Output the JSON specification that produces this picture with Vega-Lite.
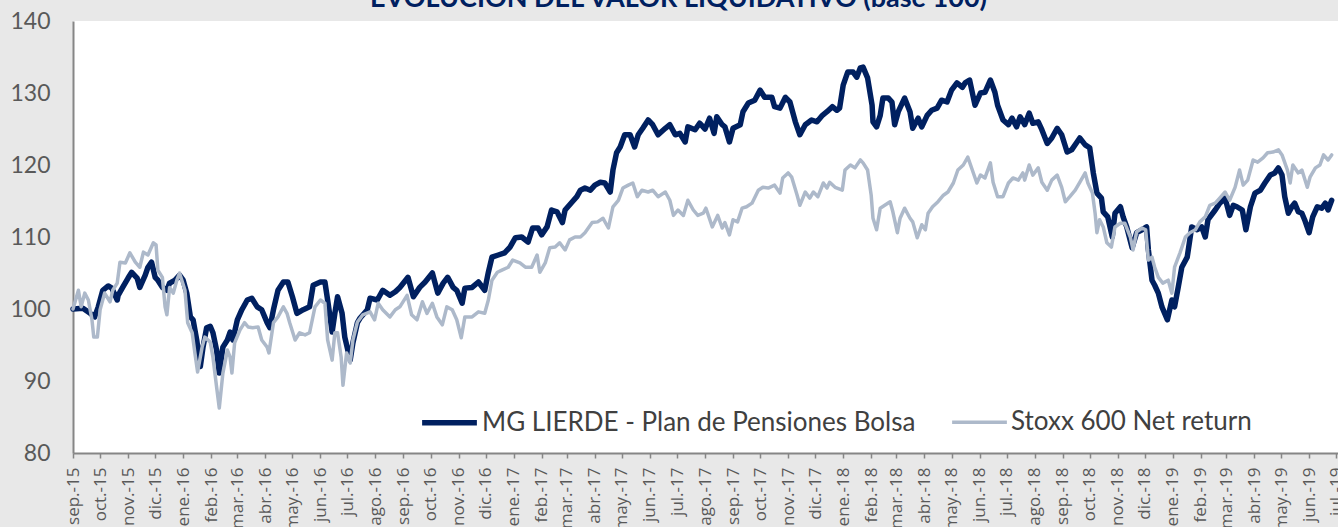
{
"$schema": "https://vega.github.io/schema/vega-lite/v6.json",
"width": 1265, "height": 432,
"autosize": {"type": "none"},
"padding": {"left": 73, "top": 21, "right": 0, "bottom": 74},
"background": "#e8e8e8",
"config": {"view": {"fill": "white", "stroke": null},
  "legend": {"orient": "none", "legendX": 346, "legendY": 371, "direction": "horizontal", "title": null,
    "labelFont": "Lato", "labelFontSize": 26, "labelColor": "#404040", "symbolType": "stroke", "symbolSize": 3000,
    "labelOffset": 2, "columnPadding": 29, "labelLimit": 700}},
"title": {"text": "EVOLUCIÓN DEL VALOR LIQUIDATIVO (base 100)", "font": "Lato", "fontSize": 27, "fontWeight": "bold", "color": "#002060", "anchor": "middle", "dx": -27, "offset": -24, "baseline": "alphabetic"},
"data": {"values": [
{"serie":"MG","fecha":"2015-09-01","valor":100},
{"serie":"MG","fecha":"2015-09-12","valor":100.1},
{"serie":"MG","fecha":"2015-09-20","valor":99.4},
{"serie":"MG","fecha":"2015-09-25","valor":98.9},
{"serie":"MG","fecha":"2015-09-29","valor":100.3},
{"serie":"MG","fecha":"2015-10-04","valor":102.6},
{"serie":"MG","fecha":"2015-10-10","valor":103.2},
{"serie":"MG","fecha":"2015-10-14","valor":102.9},
{"serie":"MG","fecha":"2015-10-20","valor":101.25},
{"serie":"MG","fecha":"2015-10-21","valor":101.9},
{"serie":"MG","fecha":"2015-10-26","valor":103},
{"serie":"MG","fecha":"2015-11-01","valor":104.3},
{"serie":"MG","fecha":"2015-11-05","valor":105.1},
{"serie":"MG","fecha":"2015-11-11","valor":104.3},
{"serie":"MG","fecha":"2015-11-14","valor":103},
{"serie":"MG","fecha":"2015-11-20","valor":104.7},
{"serie":"MG","fecha":"2015-11-23","valor":105.8},
{"serie":"MG","fecha":"2015-11-27","valor":106.5},
{"serie":"MG","fecha":"2015-12-01","valor":104.4},
{"serie":"MG","fecha":"2015-12-04","valor":104},
{"serie":"MG","fecha":"2015-12-09","valor":103},
{"serie":"MG","fecha":"2015-12-14","valor":102.6},
{"serie":"MG","fecha":"2015-12-17","valor":103.6},
{"serie":"MG","fecha":"2015-12-23","valor":104},
{"serie":"MG","fecha":"2015-12-28","valor":104.7},
{"serie":"MG","fecha":"2016-01-01","valor":104},
{"serie":"MG","fecha":"2016-01-05","valor":102.2},
{"serie":"MG","fecha":"2016-01-09","valor":98.9},
{"serie":"MG","fecha":"2016-01-12","valor":98.5},
{"serie":"MG","fecha":"2016-01-16","valor":95.7},
{"serie":"MG","fecha":"2016-01-20","valor":92},
{"serie":"MG","fecha":"2016-01-23","valor":94.7},
{"serie":"MG","fecha":"2016-01-27","valor":97.4},
{"serie":"MG","fecha":"2016-01-31","valor":97.6},
{"serie":"MG","fecha":"2016-02-03","valor":96.7},
{"serie":"MG","fecha":"2016-02-07","valor":94.3},
{"serie":"MG","fecha":"2016-02-10","valor":91.1},
{"serie":"MG","fecha":"2016-02-14","valor":94.7},
{"serie":"MG","fecha":"2016-02-19","valor":95.7},
{"serie":"MG","fecha":"2016-02-22","valor":96.8},
{"serie":"MG","fecha":"2016-02-25","valor":95.7},
{"serie":"MG","fecha":"2016-03-01","valor":98.5},
{"serie":"MG","fecha":"2016-03-06","valor":99.9},
{"serie":"MG","fecha":"2016-03-12","valor":101.25},
{"serie":"MG","fecha":"2016-03-17","valor":101.5},
{"serie":"MG","fecha":"2016-03-23","valor":100.3},
{"serie":"MG","fecha":"2016-03-28","valor":99.9},
{"serie":"MG","fecha":"2016-04-03","valor":98.1},
{"serie":"MG","fecha":"2016-04-06","valor":97.4},
{"serie":"MG","fecha":"2016-04-10","valor":99.9},
{"serie":"MG","fecha":"2016-04-15","valor":102.6},
{"serie":"MG","fecha":"2016-04-21","valor":103.75},
{"serie":"MG","fecha":"2016-04-26","valor":103.75},
{"serie":"MG","fecha":"2016-05-01","valor":101.7},
{"serie":"MG","fecha":"2016-05-06","valor":99.4},
{"serie":"MG","fecha":"2016-05-13","valor":99.9},
{"serie":"MG","fecha":"2016-05-20","valor":100.3},
{"serie":"MG","fecha":"2016-05-24","valor":103.3},
{"serie":"MG","fecha":"2016-06-01","valor":103.75},
{"serie":"MG","fecha":"2016-06-06","valor":103.75},
{"serie":"MG","fecha":"2016-06-09","valor":101.25},
{"serie":"MG","fecha":"2016-06-14","valor":96.8},
{"serie":"MG","fecha":"2016-06-17","valor":99.4},
{"serie":"MG","fecha":"2016-06-20","valor":101.7},
{"serie":"MG","fecha":"2016-06-25","valor":99.4},
{"serie":"MG","fecha":"2016-06-28","valor":96.1},
{"serie":"MG","fecha":"2016-07-04","valor":92.9},
{"serie":"MG","fecha":"2016-07-07","valor":95.3},
{"serie":"MG","fecha":"2016-07-12","valor":98.1},
{"serie":"MG","fecha":"2016-07-15","valor":98.75},
{"serie":"MG","fecha":"2016-07-23","valor":99.9},
{"serie":"MG","fecha":"2016-07-26","valor":101.5},
{"serie":"MG","fecha":"2016-08-03","valor":101.25},
{"serie":"MG","fecha":"2016-08-09","valor":102.6},
{"serie":"MG","fecha":"2016-08-17","valor":101.9},
{"serie":"MG","fecha":"2016-08-23","valor":102.4},
{"serie":"MG","fecha":"2016-08-28","valor":103},
{"serie":"MG","fecha":"2016-09-06","valor":104.4},
{"serie":"MG","fecha":"2016-09-12","valor":101.7},
{"serie":"MG","fecha":"2016-09-19","valor":103},
{"serie":"MG","fecha":"2016-09-25","valor":103.75},
{"serie":"MG","fecha":"2016-10-03","valor":105},
{"serie":"MG","fecha":"2016-10-09","valor":102.2},
{"serie":"MG","fecha":"2016-10-15","valor":103.6},
{"serie":"MG","fecha":"2016-10-20","valor":104.4},
{"serie":"MG","fecha":"2016-10-26","valor":103},
{"serie":"MG","fecha":"2016-10-30","valor":102.6},
{"serie":"MG","fecha":"2016-11-05","valor":100.8},
{"serie":"MG","fecha":"2016-11-08","valor":102.9},
{"serie":"MG","fecha":"2016-11-16","valor":103},
{"serie":"MG","fecha":"2016-11-23","valor":103.75},
{"serie":"MG","fecha":"2016-11-30","valor":102.6},
{"serie":"MG","fecha":"2016-12-04","valor":105.1},
{"serie":"MG","fecha":"2016-12-08","valor":107.2},
{"serie":"MG","fecha":"2016-12-15","valor":107.5},
{"serie":"MG","fecha":"2016-12-22","valor":107.8},
{"serie":"MG","fecha":"2016-12-28","valor":108.6},
{"serie":"MG","fecha":"2017-01-03","valor":109.9},
{"serie":"MG","fecha":"2017-01-10","valor":110},
{"serie":"MG","fecha":"2017-01-17","valor":109.3},
{"serie":"MG","fecha":"2017-01-22","valor":111.25},
{"serie":"MG","fecha":"2017-01-28","valor":111.25},
{"serie":"MG","fecha":"2017-02-01","valor":110.3},
{"serie":"MG","fecha":"2017-02-07","valor":111.4},
{"serie":"MG","fecha":"2017-02-12","valor":113.75},
{"serie":"MG","fecha":"2017-02-18","valor":113.5},
{"serie":"MG","fecha":"2017-02-24","valor":112},
{"serie":"MG","fecha":"2017-02-27","valor":113.75},
{"serie":"MG","fecha":"2017-03-07","valor":114.9},
{"serie":"MG","fecha":"2017-03-12","valor":115.6},
{"serie":"MG","fecha":"2017-03-16","valor":116.5},
{"serie":"MG","fecha":"2017-03-21","valor":116.8},
{"serie":"MG","fecha":"2017-03-27","valor":116.5},
{"serie":"MG","fecha":"2017-04-01","valor":117.2},
{"serie":"MG","fecha":"2017-04-07","valor":117.6},
{"serie":"MG","fecha":"2017-04-12","valor":117.5},
{"serie":"MG","fecha":"2017-04-18","valor":116.25},
{"serie":"MG","fecha":"2017-04-21","valor":119.3},
{"serie":"MG","fecha":"2017-04-25","valor":121.7},
{"serie":"MG","fecha":"2017-04-29","valor":122.5},
{"serie":"MG","fecha":"2017-05-04","valor":124.2},
{"serie":"MG","fecha":"2017-05-10","valor":124.2},
{"serie":"MG","fecha":"2017-05-15","valor":122.5},
{"serie":"MG","fecha":"2017-05-19","valor":124.2},
{"serie":"MG","fecha":"2017-05-24","valor":125.1},
{"serie":"MG","fecha":"2017-05-30","valor":126.25},
{"serie":"MG","fecha":"2017-06-04","valor":125.6},
{"serie":"MG","fecha":"2017-06-10","valor":124.2},
{"serie":"MG","fecha":"2017-06-18","valor":125.1},
{"serie":"MG","fecha":"2017-06-23","valor":125.6},
{"serie":"MG","fecha":"2017-06-29","valor":124.2},
{"serie":"MG","fecha":"2017-07-04","valor":124.4},
{"serie":"MG","fecha":"2017-07-10","valor":123.2},
{"serie":"MG","fecha":"2017-07-13","valor":125.3},
{"serie":"MG","fecha":"2017-07-21","valor":124.9},
{"serie":"MG","fecha":"2017-07-26","valor":125.8},
{"serie":"MG","fecha":"2017-08-01","valor":125},
{"serie":"MG","fecha":"2017-08-06","valor":126.5},
{"serie":"MG","fecha":"2017-08-11","valor":124.4},
{"serie":"MG","fecha":"2017-08-14","valor":126.7},
{"serie":"MG","fecha":"2017-08-20","valor":125.6},
{"serie":"MG","fecha":"2017-08-23","valor":125.3},
{"serie":"MG","fecha":"2017-08-28","valor":123.2},
{"serie":"MG","fecha":"2017-09-01","valor":125.1},
{"serie":"MG","fecha":"2017-09-09","valor":125.6},
{"serie":"MG","fecha":"2017-09-12","valor":127.4},
{"serie":"MG","fecha":"2017-09-18","valor":128.6},
{"serie":"MG","fecha":"2017-09-25","valor":129},
{"serie":"MG","fecha":"2017-10-01","valor":130.4},
{"serie":"MG","fecha":"2017-10-06","valor":129.4},
{"serie":"MG","fecha":"2017-10-14","valor":129.4},
{"serie":"MG","fecha":"2017-10-17","valor":128.1},
{"serie":"MG","fecha":"2017-10-23","valor":127.9},
{"serie":"MG","fecha":"2017-10-29","valor":129.4},
{"serie":"MG","fecha":"2017-11-03","valor":128.75},
{"serie":"MG","fecha":"2017-11-09","valor":126},
{"serie":"MG","fecha":"2017-11-14","valor":124.2},
{"serie":"MG","fecha":"2017-11-20","valor":125.6},
{"serie":"MG","fecha":"2017-11-27","valor":126.25},
{"serie":"MG","fecha":"2017-12-03","valor":126},
{"serie":"MG","fecha":"2017-12-09","valor":126.9},
{"serie":"MG","fecha":"2017-12-14","valor":127.4},
{"serie":"MG","fecha":"2017-12-20","valor":128.1},
{"serie":"MG","fecha":"2017-12-25","valor":127.6},
{"serie":"MG","fecha":"2017-12-28","valor":127.9},
{"serie":"MG","fecha":"2018-01-01","valor":131.1},
{"serie":"MG","fecha":"2018-01-06","valor":132.9},
{"serie":"MG","fecha":"2018-01-12","valor":132.9},
{"serie":"MG","fecha":"2018-01-16","valor":132.2},
{"serie":"MG","fecha":"2018-01-20","valor":133.5},
{"serie":"MG","fecha":"2018-01-23","valor":133.6},
{"serie":"MG","fecha":"2018-01-28","valor":132.1},
{"serie":"MG","fecha":"2018-02-02","valor":128.3},
{"serie":"MG","fecha":"2018-02-03","valor":126},
{"serie":"MG","fecha":"2018-02-07","valor":125.3},
{"serie":"MG","fecha":"2018-02-11","valor":126.9},
{"serie":"MG","fecha":"2018-02-14","valor":129.3},
{"serie":"MG","fecha":"2018-02-20","valor":129.3},
{"serie":"MG","fecha":"2018-02-24","valor":128.75},
{"serie":"MG","fecha":"2018-02-27","valor":125.6},
{"serie":"MG","fecha":"2018-03-03","valor":127.4},
{"serie":"MG","fecha":"2018-03-10","valor":129.3},
{"serie":"MG","fecha":"2018-03-16","valor":127.4},
{"serie":"MG","fecha":"2018-03-19","valor":125.1},
{"serie":"MG","fecha":"2018-03-25","valor":126.5},
{"serie":"MG","fecha":"2018-03-29","valor":125.3},
{"serie":"MG","fecha":"2018-04-04","valor":126.9},
{"serie":"MG","fecha":"2018-04-09","valor":127.6},
{"serie":"MG","fecha":"2018-04-15","valor":127.9},
{"serie":"MG","fecha":"2018-04-20","valor":129},
{"serie":"MG","fecha":"2018-04-26","valor":128.75},
{"serie":"MG","fecha":"2018-05-01","valor":130.4},
{"serie":"MG","fecha":"2018-05-07","valor":131.4},
{"serie":"MG","fecha":"2018-05-13","valor":130.8},
{"serie":"MG","fecha":"2018-05-16","valor":131.4},
{"serie":"MG","fecha":"2018-05-21","valor":131.8},
{"serie":"MG","fecha":"2018-05-27","valor":128.3},
{"serie":"MG","fecha":"2018-06-02","valor":130},
{"serie":"MG","fecha":"2018-06-07","valor":130.1},
{"serie":"MG","fecha":"2018-06-13","valor":131.8},
{"serie":"MG","fecha":"2018-06-18","valor":130.1},
{"serie":"MG","fecha":"2018-06-21","valor":128.3},
{"serie":"MG","fecha":"2018-06-27","valor":126.25},
{"serie":"MG","fecha":"2018-07-03","valor":125.6},
{"serie":"MG","fecha":"2018-07-07","valor":126.5},
{"serie":"MG","fecha":"2018-07-12","valor":125.3},
{"serie":"MG","fecha":"2018-07-16","valor":126.7},
{"serie":"MG","fecha":"2018-07-21","valor":125.6},
{"serie":"MG","fecha":"2018-07-26","valor":127.2},
{"serie":"MG","fecha":"2018-07-30","valor":125.8},
{"serie":"MG","fecha":"2018-08-05","valor":126},
{"serie":"MG","fecha":"2018-08-09","valor":124.9},
{"serie":"MG","fecha":"2018-08-15","valor":123},
{"serie":"MG","fecha":"2018-08-20","valor":123.75},
{"serie":"MG","fecha":"2018-08-26","valor":125.1},
{"serie":"MG","fecha":"2018-08-31","valor":124.2},
{"serie":"MG","fecha":"2018-09-06","valor":121.8},
{"serie":"MG","fecha":"2018-09-11","valor":122.1},
{"serie":"MG","fecha":"2018-09-17","valor":123.2},
{"serie":"MG","fecha":"2018-09-20","valor":123.75},
{"serie":"MG","fecha":"2018-09-26","valor":122.8},
{"serie":"MG","fecha":"2018-10-01","valor":122.4},
{"serie":"MG","fecha":"2018-10-05","valor":118.9},
{"serie":"MG","fecha":"2018-10-09","valor":116.1},
{"serie":"MG","fecha":"2018-10-14","valor":115.4},
{"serie":"MG","fecha":"2018-10-16","valor":113.5},
{"serie":"MG","fecha":"2018-10-21","valor":112.8},
{"serie":"MG","fecha":"2018-10-26","valor":110},
{"serie":"MG","fecha":"2018-10-29","valor":113.3},
{"serie":"MG","fecha":"2018-11-04","valor":114.2},
{"serie":"MG","fecha":"2018-11-07","valor":112.8},
{"serie":"MG","fecha":"2018-11-11","valor":111.4},
{"serie":"MG","fecha":"2018-11-17","valor":108.5},
{"serie":"MG","fecha":"2018-11-22","valor":110.6},
{"serie":"MG","fecha":"2018-11-28","valor":111},
{"serie":"MG","fecha":"2018-12-03","valor":111.4},
{"serie":"MG","fecha":"2018-12-05","valor":108.2},
{"serie":"MG","fecha":"2018-12-09","valor":104},
{"serie":"MG","fecha":"2018-12-12","valor":103.3},
{"serie":"MG","fecha":"2018-12-16","valor":102.2},
{"serie":"MG","fecha":"2018-12-20","valor":100.3},
{"serie":"MG","fecha":"2018-12-26","valor":98.5},
{"serie":"MG","fecha":"2018-12-31","valor":101.25},
{"serie":"MG","fecha":"2019-01-03","valor":100.3},
{"serie":"MG","fecha":"2019-01-07","valor":103},
{"serie":"MG","fecha":"2019-01-11","valor":105.8},
{"serie":"MG","fecha":"2019-01-17","valor":107.2},
{"serie":"MG","fecha":"2019-01-22","valor":111.4},
{"serie":"MG","fecha":"2019-01-28","valor":111},
{"serie":"MG","fecha":"2019-02-02","valor":111.4},
{"serie":"MG","fecha":"2019-02-06","valor":110},
{"serie":"MG","fecha":"2019-02-09","valor":112.4},
{"serie":"MG","fecha":"2019-02-17","valor":113.75},
{"serie":"MG","fecha":"2019-02-22","valor":114.7},
{"serie":"MG","fecha":"2019-02-28","valor":115.4},
{"serie":"MG","fecha":"2019-03-05","valor":113},
{"serie":"MG","fecha":"2019-03-09","valor":114.4},
{"serie":"MG","fecha":"2019-03-13","valor":114.2},
{"serie":"MG","fecha":"2019-03-19","valor":113.75},
{"serie":"MG","fecha":"2019-03-23","valor":111},
{"serie":"MG","fecha":"2019-03-28","valor":114.2},
{"serie":"MG","fecha":"2019-04-02","valor":116.1},
{"serie":"MG","fecha":"2019-04-08","valor":116.5},
{"serie":"MG","fecha":"2019-04-13","valor":117.5},
{"serie":"MG","fecha":"2019-04-19","valor":118.6},
{"serie":"MG","fecha":"2019-04-24","valor":118.9},
{"serie":"MG","fecha":"2019-04-28","valor":119.6},
{"serie":"MG","fecha":"2019-05-02","valor":118.6},
{"serie":"MG","fecha":"2019-05-05","valor":115.6},
{"serie":"MG","fecha":"2019-05-09","valor":113.3},
{"serie":"MG","fecha":"2019-05-13","valor":114.2},
{"serie":"MG","fecha":"2019-05-16","valor":114.7},
{"serie":"MG","fecha":"2019-05-20","valor":113.5},
{"serie":"MG","fecha":"2019-05-24","valor":113.3},
{"serie":"MG","fecha":"2019-05-27","valor":112.4},
{"serie":"MG","fecha":"2019-06-01","valor":110.6},
{"serie":"MG","fecha":"2019-06-05","valor":112.8},
{"serie":"MG","fecha":"2019-06-10","valor":114.2},
{"serie":"MG","fecha":"2019-06-15","valor":114},
{"serie":"MG","fecha":"2019-06-19","valor":114.7},
{"serie":"MG","fecha":"2019-06-22","valor":113.75},
{"serie":"MG","fecha":"2019-06-26","valor":115.1},
{"serie":"Stoxx","fecha":"2015-09-01","valor":100},
{"serie":"Stoxx","fecha":"2015-09-07","valor":102.6},
{"serie":"Stoxx","fecha":"2015-09-10","valor":100.3},
{"serie":"Stoxx","fecha":"2015-09-14","valor":102.2},
{"serie":"Stoxx","fecha":"2015-09-18","valor":101.25},
{"serie":"Stoxx","fecha":"2015-09-22","valor":98.5},
{"serie":"Stoxx","fecha":"2015-09-24","valor":96.1},
{"serie":"Stoxx","fecha":"2015-09-28","valor":96.1},
{"serie":"Stoxx","fecha":"2015-10-01","valor":99.9},
{"serie":"Stoxx","fecha":"2015-10-06","valor":102.2},
{"serie":"Stoxx","fecha":"2015-10-12","valor":101},
{"serie":"Stoxx","fecha":"2015-10-15","valor":102.6},
{"serie":"Stoxx","fecha":"2015-10-20","valor":103.6},
{"serie":"Stoxx","fecha":"2015-10-23","valor":106.5},
{"serie":"Stoxx","fecha":"2015-10-29","valor":106.4},
{"serie":"Stoxx","fecha":"2015-11-03","valor":107.8},
{"serie":"Stoxx","fecha":"2015-11-09","valor":106.5},
{"serie":"Stoxx","fecha":"2015-11-14","valor":105.8},
{"serie":"Stoxx","fecha":"2015-11-18","valor":107.9},
{"serie":"Stoxx","fecha":"2015-11-23","valor":107.5},
{"serie":"Stoxx","fecha":"2015-11-29","valor":109.2},
{"serie":"Stoxx","fecha":"2015-12-02","valor":108.9},
{"serie":"Stoxx","fecha":"2015-12-04","valor":105.4},
{"serie":"Stoxx","fecha":"2015-12-09","valor":104.4},
{"serie":"Stoxx","fecha":"2015-12-12","valor":100.3},
{"serie":"Stoxx","fecha":"2015-12-14","valor":99.2},
{"serie":"Stoxx","fecha":"2015-12-17","valor":103},
{"serie":"Stoxx","fecha":"2015-12-21","valor":102.2},
{"serie":"Stoxx","fecha":"2015-12-25","valor":104},
{"serie":"Stoxx","fecha":"2015-12-28","valor":105},
{"serie":"Stoxx","fecha":"2016-01-03","valor":102.6},
{"serie":"Stoxx","fecha":"2016-01-06","valor":98.1},
{"serie":"Stoxx","fecha":"2016-01-11","valor":96.7},
{"serie":"Stoxx","fecha":"2016-01-14","valor":93.9},
{"serie":"Stoxx","fecha":"2016-01-17","valor":91.25},
{"serie":"Stoxx","fecha":"2016-01-22","valor":94.7},
{"serie":"Stoxx","fecha":"2016-01-25","valor":96.1},
{"serie":"Stoxx","fecha":"2016-01-31","valor":95.4},
{"serie":"Stoxx","fecha":"2016-02-03","valor":93.3},
{"serie":"Stoxx","fecha":"2016-02-07","valor":89.2},
{"serie":"Stoxx","fecha":"2016-02-10","valor":86.25},
{"serie":"Stoxx","fecha":"2016-02-14","valor":91.1},
{"serie":"Stoxx","fecha":"2016-02-19","valor":94.3},
{"serie":"Stoxx","fecha":"2016-02-22","valor":93.3},
{"serie":"Stoxx","fecha":"2016-02-24","valor":91.1},
{"serie":"Stoxx","fecha":"2016-02-27","valor":95.3},
{"serie":"Stoxx","fecha":"2016-03-04","valor":97.1},
{"serie":"Stoxx","fecha":"2016-03-09","valor":98.1},
{"serie":"Stoxx","fecha":"2016-03-13","valor":97.5},
{"serie":"Stoxx","fecha":"2016-03-18","valor":97.4},
{"serie":"Stoxx","fecha":"2016-03-24","valor":97.5},
{"serie":"Stoxx","fecha":"2016-03-28","valor":95.7},
{"serie":"Stoxx","fecha":"2016-04-03","valor":94.7},
{"serie":"Stoxx","fecha":"2016-04-05","valor":93.9},
{"serie":"Stoxx","fecha":"2016-04-10","valor":98.1},
{"serie":"Stoxx","fecha":"2016-04-15","valor":98.9},
{"serie":"Stoxx","fecha":"2016-04-21","valor":100.3},
{"serie":"Stoxx","fecha":"2016-04-25","valor":99.4},
{"serie":"Stoxx","fecha":"2016-04-28","valor":98.1},
{"serie":"Stoxx","fecha":"2016-05-04","valor":95.7},
{"serie":"Stoxx","fecha":"2016-05-09","valor":96.7},
{"serie":"Stoxx","fecha":"2016-05-15","valor":96.4},
{"serie":"Stoxx","fecha":"2016-05-20","valor":96.7},
{"serie":"Stoxx","fecha":"2016-05-26","valor":100.3},
{"serie":"Stoxx","fecha":"2016-06-01","valor":101.25},
{"serie":"Stoxx","fecha":"2016-06-06","valor":100.8},
{"serie":"Stoxx","fecha":"2016-06-09","valor":95.7},
{"serie":"Stoxx","fecha":"2016-06-14","valor":92.9},
{"serie":"Stoxx","fecha":"2016-06-17","valor":96.7},
{"serie":"Stoxx","fecha":"2016-06-20","valor":96.7},
{"serie":"Stoxx","fecha":"2016-06-24","valor":93.3},
{"serie":"Stoxx","fecha":"2016-06-26","valor":89.4},
{"serie":"Stoxx","fecha":"2016-06-30","valor":93.9},
{"serie":"Stoxx","fecha":"2016-07-04","valor":92.5},
{"serie":"Stoxx","fecha":"2016-07-07","valor":95.7},
{"serie":"Stoxx","fecha":"2016-07-12","valor":98.2},
{"serie":"Stoxx","fecha":"2016-07-18","valor":99.2},
{"serie":"Stoxx","fecha":"2016-07-26","valor":99.6},
{"serie":"Stoxx","fecha":"2016-07-31","valor":98.5},
{"serie":"Stoxx","fecha":"2016-08-04","valor":100.8},
{"serie":"Stoxx","fecha":"2016-08-09","valor":99.9},
{"serie":"Stoxx","fecha":"2016-08-17","valor":98.9},
{"serie":"Stoxx","fecha":"2016-08-23","valor":99.9},
{"serie":"Stoxx","fecha":"2016-08-28","valor":100.3},
{"serie":"Stoxx","fecha":"2016-09-05","valor":101.9},
{"serie":"Stoxx","fecha":"2016-09-10","valor":99.2},
{"serie":"Stoxx","fecha":"2016-09-16","valor":98.5},
{"serie":"Stoxx","fecha":"2016-09-22","valor":101},
{"serie":"Stoxx","fecha":"2016-09-27","valor":99.4},
{"serie":"Stoxx","fecha":"2016-10-03","valor":100.8},
{"serie":"Stoxx","fecha":"2016-10-08","valor":98.9},
{"serie":"Stoxx","fecha":"2016-10-14","valor":97.8},
{"serie":"Stoxx","fecha":"2016-10-19","valor":100.3},
{"serie":"Stoxx","fecha":"2016-10-25","valor":99.9},
{"serie":"Stoxx","fecha":"2016-10-30","valor":98.5},
{"serie":"Stoxx","fecha":"2016-11-04","valor":96},
{"serie":"Stoxx","fecha":"2016-11-08","valor":98.9},
{"serie":"Stoxx","fecha":"2016-11-16","valor":98.9},
{"serie":"Stoxx","fecha":"2016-11-23","valor":99.6},
{"serie":"Stoxx","fecha":"2016-11-30","valor":99.4},
{"serie":"Stoxx","fecha":"2016-12-04","valor":101.25},
{"serie":"Stoxx","fecha":"2016-12-08","valor":104},
{"serie":"Stoxx","fecha":"2016-12-14","valor":105.1},
{"serie":"Stoxx","fecha":"2016-12-19","valor":105.4},
{"serie":"Stoxx","fecha":"2016-12-26","valor":105.8},
{"serie":"Stoxx","fecha":"2016-12-31","valor":106.8},
{"serie":"Stoxx","fecha":"2017-01-08","valor":106.4},
{"serie":"Stoxx","fecha":"2017-01-14","valor":105.8},
{"serie":"Stoxx","fecha":"2017-01-21","valor":105.8},
{"serie":"Stoxx","fecha":"2017-01-27","valor":107.5},
{"serie":"Stoxx","fecha":"2017-01-30","valor":105.1},
{"serie":"Stoxx","fecha":"2017-02-05","valor":106.4},
{"serie":"Stoxx","fecha":"2017-02-10","valor":108.5},
{"serie":"Stoxx","fecha":"2017-02-16","valor":108.6},
{"serie":"Stoxx","fecha":"2017-02-21","valor":109.2},
{"serie":"Stoxx","fecha":"2017-02-27","valor":108.2},
{"serie":"Stoxx","fecha":"2017-03-04","valor":109.6},
{"serie":"Stoxx","fecha":"2017-03-10","valor":110},
{"serie":"Stoxx","fecha":"2017-03-16","valor":110},
{"serie":"Stoxx","fecha":"2017-03-21","valor":110.6},
{"serie":"Stoxx","fecha":"2017-03-29","valor":112},
{"serie":"Stoxx","fecha":"2017-04-04","valor":112.1},
{"serie":"Stoxx","fecha":"2017-04-10","valor":112.6},
{"serie":"Stoxx","fecha":"2017-04-16","valor":111.25},
{"serie":"Stoxx","fecha":"2017-04-21","valor":114.2},
{"serie":"Stoxx","fecha":"2017-04-27","valor":115.1},
{"serie":"Stoxx","fecha":"2017-05-02","valor":116.8},
{"serie":"Stoxx","fecha":"2017-05-08","valor":117.2},
{"serie":"Stoxx","fecha":"2017-05-13","valor":117.5},
{"serie":"Stoxx","fecha":"2017-05-18","valor":115.6},
{"serie":"Stoxx","fecha":"2017-05-23","valor":116.5},
{"serie":"Stoxx","fecha":"2017-05-30","valor":116.25},
{"serie":"Stoxx","fecha":"2017-06-04","valor":116.5},
{"serie":"Stoxx","fecha":"2017-06-10","valor":115.6},
{"serie":"Stoxx","fecha":"2017-06-18","valor":116.25},
{"serie":"Stoxx","fecha":"2017-06-23","valor":115.1},
{"serie":"Stoxx","fecha":"2017-06-27","valor":113},
{"serie":"Stoxx","fecha":"2017-07-02","valor":113.75},
{"serie":"Stoxx","fecha":"2017-07-08","valor":113},
{"serie":"Stoxx","fecha":"2017-07-13","valor":115.1},
{"serie":"Stoxx","fecha":"2017-07-19","valor":113.75},
{"serie":"Stoxx","fecha":"2017-07-24","valor":113},
{"serie":"Stoxx","fecha":"2017-07-30","valor":113.3},
{"serie":"Stoxx","fecha":"2017-08-02","valor":114},
{"serie":"Stoxx","fecha":"2017-08-09","valor":111.4},
{"serie":"Stoxx","fecha":"2017-08-15","valor":113},
{"serie":"Stoxx","fecha":"2017-08-20","valor":111.25},
{"serie":"Stoxx","fecha":"2017-08-23","valor":112},
{"serie":"Stoxx","fecha":"2017-08-28","valor":110.3},
{"serie":"Stoxx","fecha":"2017-09-01","valor":112.4},
{"serie":"Stoxx","fecha":"2017-09-06","valor":112.1},
{"serie":"Stoxx","fecha":"2017-09-11","valor":114},
{"serie":"Stoxx","fecha":"2017-09-16","valor":114.2},
{"serie":"Stoxx","fecha":"2017-09-22","valor":114.7},
{"serie":"Stoxx","fecha":"2017-09-29","valor":116.5},
{"serie":"Stoxx","fecha":"2017-10-04","valor":116.9},
{"serie":"Stoxx","fecha":"2017-10-10","valor":116.8},
{"serie":"Stoxx","fecha":"2017-10-17","valor":117.2},
{"serie":"Stoxx","fecha":"2017-10-23","valor":116.1},
{"serie":"Stoxx","fecha":"2017-10-26","valor":118.2},
{"serie":"Stoxx","fecha":"2017-11-01","valor":118.9},
{"serie":"Stoxx","fecha":"2017-11-05","valor":118.3},
{"serie":"Stoxx","fecha":"2017-11-11","valor":115.8},
{"serie":"Stoxx","fecha":"2017-11-14","valor":114.4},
{"serie":"Stoxx","fecha":"2017-11-20","valor":116.25},
{"serie":"Stoxx","fecha":"2017-11-25","valor":115.4},
{"serie":"Stoxx","fecha":"2017-11-29","valor":116.25},
{"serie":"Stoxx","fecha":"2017-12-04","valor":115.6},
{"serie":"Stoxx","fecha":"2017-12-10","valor":117.5},
{"serie":"Stoxx","fecha":"2017-12-14","valor":116.8},
{"serie":"Stoxx","fecha":"2017-12-17","valor":117.6},
{"serie":"Stoxx","fecha":"2017-12-23","valor":116.9},
{"serie":"Stoxx","fecha":"2017-12-31","valor":116.5},
{"serie":"Stoxx","fecha":"2018-01-03","valor":119.3},
{"serie":"Stoxx","fecha":"2018-01-09","valor":120},
{"serie":"Stoxx","fecha":"2018-01-14","valor":119.6},
{"serie":"Stoxx","fecha":"2018-01-20","valor":120.7},
{"serie":"Stoxx","fecha":"2018-01-23","valor":120.3},
{"serie":"Stoxx","fecha":"2018-01-28","valor":119.3},
{"serie":"Stoxx","fecha":"2018-02-01","valor":115.8},
{"serie":"Stoxx","fecha":"2018-02-03","valor":112.6},
{"serie":"Stoxx","fecha":"2018-02-07","valor":111},
{"serie":"Stoxx","fecha":"2018-02-11","valor":114},
{"serie":"Stoxx","fecha":"2018-02-16","valor":114.4},
{"serie":"Stoxx","fecha":"2018-02-22","valor":114.9},
{"serie":"Stoxx","fecha":"2018-02-25","valor":113.5},
{"serie":"Stoxx","fecha":"2018-03-02","valor":110.6},
{"serie":"Stoxx","fecha":"2018-03-05","valor":112.6},
{"serie":"Stoxx","fecha":"2018-03-10","valor":114},
{"serie":"Stoxx","fecha":"2018-03-16","valor":112.6},
{"serie":"Stoxx","fecha":"2018-03-19","valor":112.1},
{"serie":"Stoxx","fecha":"2018-03-24","valor":109.9},
{"serie":"Stoxx","fecha":"2018-03-29","valor":111.7},
{"serie":"Stoxx","fecha":"2018-04-02","valor":111},
{"serie":"Stoxx","fecha":"2018-04-05","valor":113.3},
{"serie":"Stoxx","fecha":"2018-04-10","valor":114.2},
{"serie":"Stoxx","fecha":"2018-04-16","valor":114.9},
{"serie":"Stoxx","fecha":"2018-04-22","valor":115.8},
{"serie":"Stoxx","fecha":"2018-04-27","valor":116.25},
{"serie":"Stoxx","fecha":"2018-05-03","valor":117.5},
{"serie":"Stoxx","fecha":"2018-05-08","valor":119.3},
{"serie":"Stoxx","fecha":"2018-05-14","valor":120},
{"serie":"Stoxx","fecha":"2018-05-19","valor":121.1},
{"serie":"Stoxx","fecha":"2018-05-24","valor":119.3},
{"serie":"Stoxx","fecha":"2018-05-29","valor":117.5},
{"serie":"Stoxx","fecha":"2018-06-02","valor":118.6},
{"serie":"Stoxx","fecha":"2018-06-07","valor":118.2},
{"serie":"Stoxx","fecha":"2018-06-13","valor":120.3},
{"serie":"Stoxx","fecha":"2018-06-16","valor":117.6},
{"serie":"Stoxx","fecha":"2018-06-21","valor":115.6},
{"serie":"Stoxx","fecha":"2018-06-27","valor":115.6},
{"serie":"Stoxx","fecha":"2018-07-03","valor":117.5},
{"serie":"Stoxx","fecha":"2018-07-08","valor":118.2},
{"serie":"Stoxx","fecha":"2018-07-14","valor":117.9},
{"serie":"Stoxx","fecha":"2018-07-19","valor":118.9},
{"serie":"Stoxx","fecha":"2018-07-21","valor":117.9},
{"serie":"Stoxx","fecha":"2018-07-26","valor":120},
{"serie":"Stoxx","fecha":"2018-07-30","valor":118.6},
{"serie":"Stoxx","fecha":"2018-08-05","valor":119.6},
{"serie":"Stoxx","fecha":"2018-08-09","valor":117.6},
{"serie":"Stoxx","fecha":"2018-08-15","valor":116.5},
{"serie":"Stoxx","fecha":"2018-08-20","valor":117.9},
{"serie":"Stoxx","fecha":"2018-08-26","valor":118.6},
{"serie":"Stoxx","fecha":"2018-08-31","valor":116.9},
{"serie":"Stoxx","fecha":"2018-09-04","valor":114.9},
{"serie":"Stoxx","fecha":"2018-09-09","valor":115.6},
{"serie":"Stoxx","fecha":"2018-09-15","valor":116.5},
{"serie":"Stoxx","fecha":"2018-09-20","valor":117.6},
{"serie":"Stoxx","fecha":"2018-09-26","valor":118.9},
{"serie":"Stoxx","fecha":"2018-09-29","valor":117.5},
{"serie":"Stoxx","fecha":"2018-10-04","valor":116.1},
{"serie":"Stoxx","fecha":"2018-10-07","valor":113.3},
{"serie":"Stoxx","fecha":"2018-10-09","valor":110.6},
{"serie":"Stoxx","fecha":"2018-10-12","valor":112.4},
{"serie":"Stoxx","fecha":"2018-10-16","valor":111.4},
{"serie":"Stoxx","fecha":"2018-10-20","valor":109.2},
{"serie":"Stoxx","fecha":"2018-10-25","valor":108.6},
{"serie":"Stoxx","fecha":"2018-10-29","valor":111.4},
{"serie":"Stoxx","fecha":"2018-11-04","valor":111.9},
{"serie":"Stoxx","fecha":"2018-11-09","valor":111.9},
{"serie":"Stoxx","fecha":"2018-11-15","valor":110},
{"serie":"Stoxx","fecha":"2018-11-18","valor":108.2},
{"serie":"Stoxx","fecha":"2018-11-22","valor":110.7},
{"serie":"Stoxx","fecha":"2018-11-28","valor":111.25},
{"serie":"Stoxx","fecha":"2018-12-02","valor":111},
{"serie":"Stoxx","fecha":"2018-12-05","valor":106.8},
{"serie":"Stoxx","fecha":"2018-12-09","valor":107.2},
{"serie":"Stoxx","fecha":"2018-12-12","valor":105.8},
{"serie":"Stoxx","fecha":"2018-12-16","valor":104.4},
{"serie":"Stoxx","fecha":"2018-12-21","valor":103.6},
{"serie":"Stoxx","fecha":"2018-12-27","valor":104},
{"serie":"Stoxx","fecha":"2018-12-31","valor":102.2},
{"serie":"Stoxx","fecha":"2019-01-03","valor":105.8},
{"serie":"Stoxx","fecha":"2019-01-09","valor":107.8},
{"serie":"Stoxx","fecha":"2019-01-15","valor":110},
{"serie":"Stoxx","fecha":"2019-01-20","valor":110.6},
{"serie":"Stoxx","fecha":"2019-01-26","valor":111},
{"serie":"Stoxx","fecha":"2019-01-31","valor":112.1},
{"serie":"Stoxx","fecha":"2019-02-06","valor":112.8},
{"serie":"Stoxx","fecha":"2019-02-11","valor":114.4},
{"serie":"Stoxx","fecha":"2019-02-17","valor":114.7},
{"serie":"Stoxx","fecha":"2019-02-22","valor":115.4},
{"serie":"Stoxx","fecha":"2019-02-28","valor":116.25},
{"serie":"Stoxx","fecha":"2019-03-05","valor":115.1},
{"serie":"Stoxx","fecha":"2019-03-11","valor":116.9},
{"serie":"Stoxx","fecha":"2019-03-16","valor":119.3},
{"serie":"Stoxx","fecha":"2019-03-20","valor":117.2},
{"serie":"Stoxx","fecha":"2019-03-25","valor":117.9},
{"serie":"Stoxx","fecha":"2019-03-31","valor":120.7},
{"serie":"Stoxx","fecha":"2019-04-05","valor":120.4},
{"serie":"Stoxx","fecha":"2019-04-11","valor":121},
{"serie":"Stoxx","fecha":"2019-04-16","valor":121.7},
{"serie":"Stoxx","fecha":"2019-04-22","valor":121.8},
{"serie":"Stoxx","fecha":"2019-04-28","valor":122.1},
{"serie":"Stoxx","fecha":"2019-05-02","valor":121.4},
{"serie":"Stoxx","fecha":"2019-05-08","valor":119.3},
{"serie":"Stoxx","fecha":"2019-05-11","valor":117.5},
{"serie":"Stoxx","fecha":"2019-05-14","valor":120},
{"serie":"Stoxx","fecha":"2019-05-20","valor":118.9},
{"serie":"Stoxx","fecha":"2019-05-24","valor":119.3},
{"serie":"Stoxx","fecha":"2019-05-30","valor":116.9},
{"serie":"Stoxx","fecha":"2019-06-02","valor":118.3},
{"serie":"Stoxx","fecha":"2019-06-08","valor":119.6},
{"serie":"Stoxx","fecha":"2019-06-13","valor":120},
{"serie":"Stoxx","fecha":"2019-06-17","valor":121.4},
{"serie":"Stoxx","fecha":"2019-06-22","valor":120.7},
{"serie":"Stoxx","fecha":"2019-06-26","valor":121.4}
]},
"mark": {"type": "line", "strokeJoin": "round", "strokeCap": "round"},
"encoding": {
  "x": {"field": "fecha", "type": "temporal",
    "scale": {"domain": [{"year": 2015, "month": 9, "date": 1}, {"year": 2019, "month": 7, "date": 3}]},
    "axis": {"title": null, "grid": false, "tickCount": {"interval": "month", "step": 1},
      "labelExpr": "['ene.','feb.','mar.','abr.','may.','jun.','jul.','ago.','sep.','oct.','nov.','dic.'][month(datum.value)] + '-' + timeFormat(datum.value, '%y')",
      "labelAngle": 270, "labelFont": "Open Sans", "labelFontSize": 17, "labelColor": "#595959", "labelPadding": 9,
      "labelOverlap": false, "labelBound": false, "labelFlush": false,
      "domainColor": "#868686", "domainWidth": 2, "tickColor": "#868686", "tickSize": 5, "tickWidth": 1.5}},
  "y": {"field": "valor", "type": "quantitative",
    "scale": {"domain": [80, 140], "nice": false, "zero": false},
    "axis": {"title": null, "grid": false, "values": [80, 90, 100, 110, 120, 130, 140], "ticks": false,
      "labelFont": "Lato", "labelFontSize": 23, "labelColor": "#595959", "labelPadding": 23,
      "domainColor": "#868686", "domainWidth": 2}},
  "color": {"field": "serie", "type": "nominal",
    "scale": {"domain": ["MG", "Stoxx"], "range": ["#002060", "#adb9ca"]},
    "legend": {"labelExpr": "datum.label == 'MG' ? 'MG LIERDE - Plan de Pensiones Bolsa' : 'Stoxx 600 Net return'"}},
  "strokeWidth": {"field": "serie", "type": "nominal",
    "scale": {"domain": ["MG", "Stoxx"], "range": [5.5, 3.5]},
    "legend": {"labelExpr": "datum.label == 'MG' ? 'MG LIERDE - Plan de Pensiones Bolsa' : 'Stoxx 600 Net return'"}}
}
}
